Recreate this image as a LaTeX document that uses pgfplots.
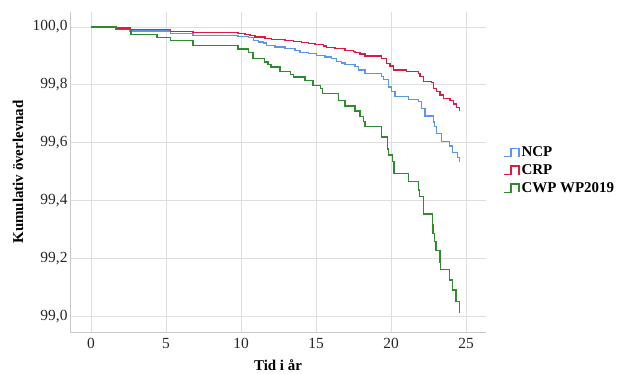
\documentclass[border=0pt]{standalone}
\usepackage{pgfplots}
\pgfplotsset{compat=1.18}
\usepackage{fontspec}
\setmainfont{Liberation Serif}
\definecolor{ncp}{RGB}{92,150,232}
\definecolor{crp}{RGB}{222,28,66}
\definecolor{cwp}{RGB}{46,140,46}
\definecolor{gridc}{RGB}{222,222,222}
\definecolor{axc}{RGB}{200,200,200}
\begin{document}
\begin{tikzpicture}
\path (0,0) rectangle (622bp,374bp);
\begin{axis}[
  at={(70bp,42bp)}, anchor=south west,
  scale only axis, width=416bp, height=320bp,
  xmin=-1.4, xmax=26.33, ymin=98.945, ymax=100.052,
  axis x line*=bottom, axis y line*=left,
  axis line style={axc, -, line width=0.8bp},
  xtick={0,5,10,15,20,25},
  ytick={99.0,99.2,99.4,99.6,99.8,100.0},
  major tick length=0pt,
  grid=major, major grid style={gridc, line width=0.8bp},
  /pgf/number format/assume math mode=true,
  yticklabel style={/pgf/number format/fixed, /pgf/number format/fixed zerofill, /pgf/number format/precision=1, /pgf/number format/use comma, xshift=1bp},
  tick label style={font=\fontsize{15.5}{18}\selectfont, text=black!85},
  xticklabel style={yshift=-3bp},
  xlabel={\textbf{Tid i år}}, ylabel={\textbf{Kumulativ överlevnad}},
  label style={font=\fontsize{15}{18}\selectfont},
  xlabel style={at={(axis description cs:0.5,-0.103)}, anchor=center},
  ylabel style={at={(axis description cs:-0.125,0.5)}, anchor=center},
  legend style={at={(axis description cs:1.041,0.585)}, anchor=north west, draw=none, fill=none,
    font=\fontsize{15}{18}\selectfont\bfseries, row sep=2.5bp, inner sep=0pt},
  legend cell align=left,
  legend image code/.code={\draw[#1, line width=1.3bp] (0bp,-4bp) -- (7bp,-4bp) -- (7bp,4.5bp) -- (15bp,4.5bp) -- (15bp,-4bp);},
  clip=false,
]
\addplot[const plot, ncp, line width=1.3bp] coordinates {
(0,100) (1.7,99.9965) (2.6,99.986) (5.3,99.978) (6.8,99.971) (9.8,99.967)
(10.49,99.963) (10.82,99.954) (11.15,99.948) (11.49,99.945) (11.71,99.937)
(12.27,99.931) (12.93,99.925) (13.6,99.919) (13.93,99.913) (14.49,99.908)
(15.05,99.902) (15.6,99.896) (16.05,99.890) (16.38,99.881) (16.71,99.876)
(16.93,99.871) (17.6,99.863) (17.82,99.851) (18.27,99.840) (19.38,99.828)
(19.49,99.819) (19.82,99.793) (20.05,99.776) (20.27,99.759) (21.15,99.750)
(21.82,99.742) (22.05,99.719) (22.27,99.692) (22.82,99.671) (22.9,99.657)
(23.05,99.632) (23.38,99.603) (23.89,99.588) (24.11,99.565) (24.42,99.549)
(24.55,99.534) (24.6,99.534)
};
\addlegendentry{NCP}
\addplot[const plot, crp, line width=1.3bp] coordinates {
(0,100) (1.7,99.9965) (2.6,99.991) (5.3,99.984) (6.8,99.980) (9.8,99.978)
(10.27,99.975) (10.6,99.971) (10.93,99.965) (11.6,99.961) (12.05,99.957)
(12.93,99.954) (13.49,99.951) (14.05,99.946) (14.49,99.942) (14.93,99.940)
(15.49,99.934) (15.71,99.928) (16.27,99.925) (16.93,99.919) (17.49,99.916)
(17.6,99.913) (17.93,99.907) (18.27,99.900) (19.38,99.892) (19.71,99.874)
(19.93,99.865) (20.15,99.851) (21.05,99.845) (21.82,99.840) (21.93,99.828)
(22.15,99.811) (22.71,99.807) (22.82,99.788) (23.05,99.776) (23.27,99.765)
(23.49,99.753) (23.93,99.745) (24.15,99.734) (24.38,99.722) (24.55,99.713)
(24.6,99.713)
};
\addlegendentry{CRP}
\addplot[const plot, cwp, line width=1.3bp] coordinates {
(0,100) (1.67,99.992) (2.67,99.975) (4.4,99.964) (5.3,99.954) (6.8,99.935)
(9.8,99.924) (10.5,99.912) (10.8,99.890) (11.55,99.879) (11.8,99.870)
(12.0,99.862) (12.6,99.847) (13.3,99.836) (13.5,99.827) (14.27,99.814)
(14.8,99.798) (15.3,99.788) (15.45,99.771) (16.5,99.747) (16.93,99.727)
(17.6,99.710) (17.93,99.690) (18.15,99.672) (18.27,99.657) (19.38,99.620)
(19.78,99.578) (19.85,99.557) (20.11,99.534) (20.2,99.494) (21.15,99.465)
(21.82,99.436) (21.9,99.413) (22.15,99.353) (22.78,99.315) (22.8,99.286)
(22.89,99.257) (23.0,99.228) (23.27,99.187) (23.3,99.162) (23.89,99.125)
(24.11,99.090) (24.33,99.050) (24.55,99.012) (24.6,99.012)
};
\addlegendentry{CWP WP2019}
\end{axis}
\end{tikzpicture}
\end{document}
